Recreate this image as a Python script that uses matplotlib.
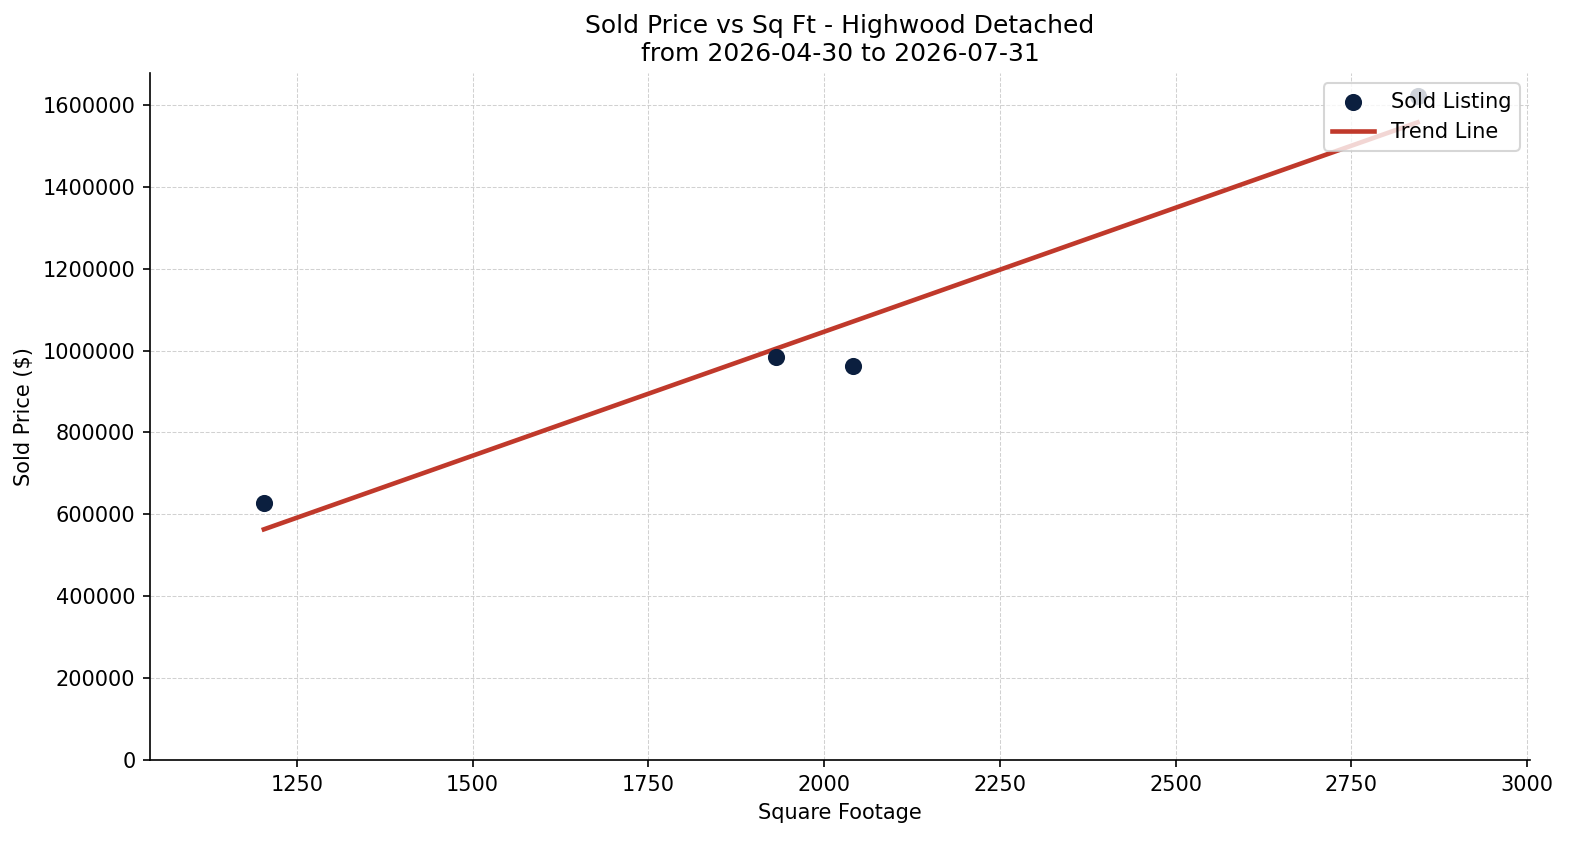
import numpy as np
import matplotlib
matplotlib.use("Agg")
import matplotlib.pyplot as plt

sqft = [1203, 1931, 2041, 2844]
sold_price = [628000, 984000, 962000, 1622000]

title_line1 = "Sold Price vs Sq Ft - Highwood Detached"
title_line2 = "from 2026-04-30 to 2026-07-31"

fig = plt.figure(figsize=(1582 / 150, 845 / 150), dpi=150)
ax = fig.add_axes([150 / 1582, 1 - 760 / 845, (1530 - 150) / 1582, (760 - 73) / 845])

ax.scatter(sqft, sold_price, s=52, color="#0b1f3f", label="Sold Listing", zorder=3)

coef = np.polyfit(sqft, sold_price, 1)
xs = np.array([min(sqft), max(sqft)])
ax.plot(xs, np.polyval(coef, xs), color="#c0392b", linewidth=2.2, label="Trend Line", zorder=2)

ax.set_xlim(1041, 3004)
ax.set_ylim(0, 1678000)
ax.ticklabel_format(style="plain", axis="y", useOffset=False)

ax.set_title(title_line1 + "\n" + title_line2, fontsize=12)
ax.set_xlabel("Square Footage")
ax.set_ylabel("Sold Price ($)")
ax.grid(True, linestyle="--", linewidth=0.5, color="#cccccc", alpha=0.9)
ax.set_axisbelow(True)
for s in ["top", "right"]:
    ax.spines[s].set_visible(False)
ax.legend(loc="upper right")

fig.savefig("out.png", dpi=150)
